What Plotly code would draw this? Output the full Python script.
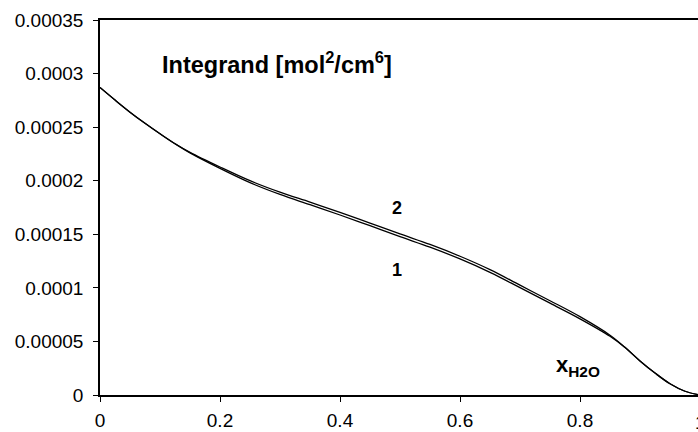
import plotly.graph_objects as go

x_vals = [0, 0.025, 0.05, 0.075, 0.1, 0.125, 0.15, 0.2, 0.25, 0.3, 0.35, 0.4, 0.45,
          0.5, 0.55, 0.6, 0.65, 0.7, 0.75, 0.8, 0.85, 0.875, 0.9, 0.925, 0.95, 0.975, 1.0]
curve2 = [0.000287, 0.0002753, 0.000264, 0.0002536, 0.0002438, 0.0002345, 0.0002265,
          0.0002128, 0.0002000, 0.0001893, 0.0001800, 0.0001705, 0.0001605, 0.0001503,
          0.0001405, 0.0001295, 0.0001170, 0.0001025, 0.0000880, 0.0000731, 0.0000558,
          0.0000445, 0.0000318, 0.0000205, 0.0000105, 0.0000035, 0.0]
curve1 = [0.000287, 0.0002753, 0.000264, 0.0002536, 0.0002438, 0.0002345, 0.000226,
          0.0002115, 0.0001982, 0.0001872, 0.0001776, 0.000168, 0.000158, 0.0001478,
          0.000138, 0.000127, 0.0001145, 0.0001002, 0.0000857, 0.0000711, 0.0000548,
          0.0000443, 0.0000318, 0.0000205, 0.0000105, 0.0000035, 0.0]

y_ticks = [0, 0.00005, 0.0001, 0.00015, 0.0002, 0.00025, 0.0003, 0.00035]
y_tick_text = ["0", "0.00005", "0.0001", "0.00015", "0.0002", "0.00025", "0.0003", "0.00035"]
x_ticks = [0, 0.2, 0.4, 0.6, 0.8]
x_tick_text = ["0", "0.2", "0.4", "0.6", "0.8"]

FONT = "Liberation Sans, Arial, sans-serif"

fig = go.Figure()
for ys in (curve1, curve2):
    fig.add_trace(go.Scatter(x=x_vals, y=ys, mode="lines",
                             line=dict(color="black", width=1.3, shape="spline", smoothing=1.0),
                             showlegend=False, hoverinfo="skip"))

W, H = 698, 432
L, R, T, B = 100, 0, 20, 37
pw = W - L - R
ph = H - T - B

def px(xp):
    return (xp - L) / pw

def py(yp):
    return (H - B - yp) / ph

ann = [
    dict(text="<b>Integrand [mol<sup>2</sup>/cm<sup>6</sup>]</b>", x=px(160), y=py(63),
         xanchor="left", yanchor="middle", font=dict(size=23.5)),
    dict(text="<b>2</b>", x=px(397), y=py(208), xanchor="center", yanchor="middle", font=dict(size=18)),
    dict(text="<b>1</b>", x=px(397), y=py(270), xanchor="center", yanchor="middle", font=dict(size=18)),
    dict(text="<b>x<sub>H2O</sub></b>", x=px(554), y=py(366), xanchor="left", yanchor="middle",
         font=dict(size=22)),
    dict(text="1", x=px(700), y=py(422), xanchor="center", yanchor="middle", font=dict(size=19)),
]
for a in ann:
    a.update(xref="paper", yref="paper", showarrow=False)
    a["font"].update(family=FONT, color="black")

fig.update_layout(
    width=W, height=H,
    margin=dict(l=L, r=R, t=T, b=B, autoexpand=False),
    paper_bgcolor="white", plot_bgcolor="white",
    font=dict(family=FONT, size=19, color="black"),
    annotations=ann,
    xaxis=dict(range=[0, pw / 600], tickvals=x_ticks, ticktext=x_tick_text, automargin=False,
               showgrid=False, zeroline=False, showline=True, linecolor="black", linewidth=1.5,
               mirror=True, ticks="outside", ticklen=5, tickcolor="black", ticklabelstandoff=2),
    yaxis=dict(range=[0, 0.00035], tickvals=y_ticks, ticktext=y_tick_text, automargin=False,
               showgrid=False, zeroline=False, showline=True, linecolor="black", linewidth=1.5,
               ticks="outside", ticklen=5, tickcolor="black", ticklabelstandoff=6),
)

fig.write_html("out.html", config={"displayModeBar": False},
               post_script="document.body.style.margin='0';document.body.style.overflow='hidden';")
